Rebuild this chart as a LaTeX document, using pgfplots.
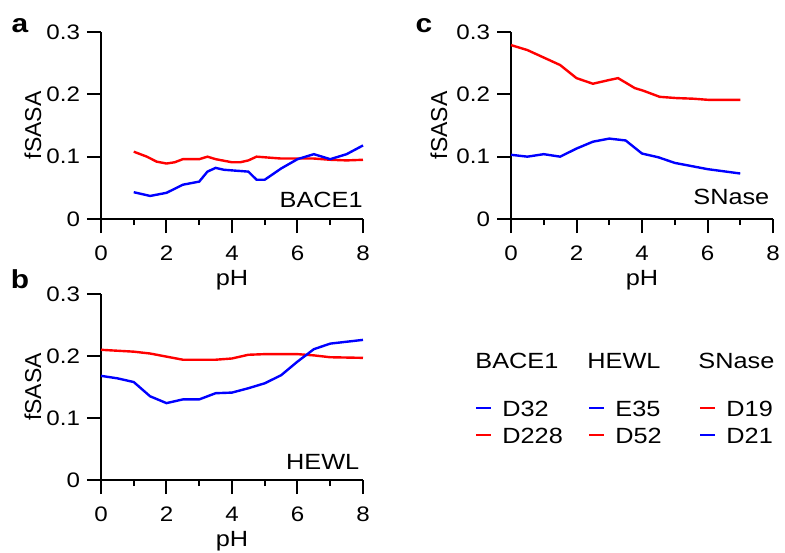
\documentclass[border=0pt]{standalone}
\usepackage{fontspec}
\setmainfont[FakeStretch=1.15]{Liberation Sans}
\newfontfamily\plainsans{Liberation Sans}
\usepackage{pgfplots}
\pgfplotsset{compat=1.18}

% BACE1
\pgfplotstableread{
ph   f
1.0  0.108
1.4  0.100
1.7  0.092
2.0  0.089
2.25 0.091
2.5  0.096
3.0  0.096
3.25 0.100
3.5  0.096
4.0  0.091
4.25 0.091
4.5  0.094
4.75 0.100
5.0  0.099
5.5  0.097
6.0  0.097
6.5  0.097
7.0  0.095
7.5  0.094
8.0  0.095
}\baceDtwotwoeight
\pgfplotstableread{
ph   f
1.0  0.043
1.5  0.037
2.0  0.042
2.5  0.055
3.0  0.060
3.25 0.076
3.5  0.082
3.75 0.079
4.0  0.078
4.5  0.076
4.75 0.063
5.0  0.063
5.5  0.081
6.0  0.096
6.5  0.104
7.0  0.096
7.5  0.104
8.0  0.118
}\baceDthreetwo
% HEWL
\pgfplotstableread{
ph   f
0.0  0.210
1.0  0.207
1.5  0.204
2.0  0.199
2.5  0.194
3.0  0.194
3.5  0.194
4.0  0.196
4.5  0.202
5.0  0.203
5.5  0.203
6.0  0.203
6.5  0.201
7.0  0.198
8.0  0.197
}\hewlDfivetwo
\pgfplotstableread{
ph   f
0.0  0.168
0.5  0.164
1.0  0.158
1.5  0.135
2.0  0.124
2.5  0.130
3.0  0.130
3.5  0.140
4.0  0.141
4.5  0.148
5.0  0.156
5.5  0.169
6.0  0.191
6.5  0.211
7.0  0.220
7.5  0.223
8.0  0.226
}\hewlEthreefive
% SNase
\pgfplotstableread{
ph   f
0.0  0.279
0.5  0.271
1.0  0.259
1.5  0.247
2.0  0.226
2.5  0.217
3.0  0.223
3.27 0.226
3.78 0.210
4.03 0.206
4.54 0.196
5.05 0.194
5.56 0.193
6.07 0.191
7.0  0.191
}\snaseDonenine
\pgfplotstableread{
ph   f
0.0  0.103
0.5  0.100
1.0  0.104
1.5  0.100
2.0  0.113
2.5  0.124
3.0  0.129
3.5  0.126
4.0  0.105
4.5  0.099
5.0  0.090
5.5  0.085
6.0  0.080
7.0  0.073
}\snaseDtwoone

\tikzset{
  inlabel/.style={inner sep=0pt, anchor=east, font=\fontsize{11}{13}\selectfont},
  letter/.style={font=\bfseries\fontsize{13}{15}\selectfont},
}
\pgfplotsset{
  panel/.style={
    scale only axis, width=131pt, height=93.5pt,
    anchor=south west,
    xmin=0, xmax=8, ymin=0, ymax=0.3,
    axis x line*=bottom, axis y line*=left,
    axis line style={line width=1pt, -},
    xtick={0,2,4,6,8}, minor xtick={1,3,5,7},
    ytick={0,0.1,0.2,0.3},
    tick align=outside,
    major tick length=7pt, minor tick length=3pt,
    every tick/.style={line width=1pt, black},
    minor tick style={line width=1pt, black},
    /pgf/number format/assume math mode=true,
    tick label style={font=\fontsize{10.5}{12}\selectfont},
    xticklabel style={yshift=-3pt},
    xlabel=pH, ylabel=fSASA,
    xlabel style={font=\fontsize{11}{13}\selectfont,
      at={(axis description cs:0.5,-0.33)}, anchor=center},
    ylabel style={font=\plainsans\fontsize{11.5}{13}\selectfont,
      at={(axis description cs:-0.26,0.5)}, anchor=center},
    clip=false,
    every axis plot/.append style={line width=1.2pt},
  },
  canvas/.style={
    at={(0pt,0pt)}, anchor=south west,
    scale only axis, width=392.5pt, height=276pt,
    xmin=0, xmax=785, ymin=0, ymax=552,
    hide axis, clip=false,
    legend image code/.code={\draw[##1] (0pt,0pt) -- (7.5pt,0pt);},
    legend style={draw=none, fill=none, inner sep=0pt, outer sep=0pt,
      row sep=5.5pt, column sep=5pt,
      nodes={inner sep=0pt, text height=8pt, text depth=0pt,
        font=\fontsize{11}{13}\selectfont},
      anchor=north west},
    legend cell align=left,
  },
}

\begin{document}
\begin{tikzpicture}
\useasboundingbox (0,0) rectangle (392.5pt,276pt);

% panel a: BACE1
\begin{axis}[panel, at={(50.5pt,166.5pt)}]
\addplot[red] table[x=ph, y=f] {\baceDtwotwoeight};
\addplot[blue] table[x=ph, y=f] {\baceDthreetwo};
\node[inlabel] at (axis cs:8,0.03) {BACE1};
\end{axis}

% panel b: HEWL
\begin{axis}[panel, at={(50.5pt,36pt)}, height=93pt]
\addplot[red] table[x=ph, y=f] {\hewlDfivetwo};
\addplot[blue] table[x=ph, y=f] {\hewlEthreefive};
\node[inlabel] at (axis cs:7.9,0.029) {HEWL};
\end{axis}

% panel c: SNase
\begin{axis}[panel, at={(255.5pt,166.5pt)},
  ylabel style={at={(axis description cs:-0.275,0.5)}}]
\addplot[red] table[x=ph, y=f] {\snaseDonenine};
\addplot[blue] table[x=ph, y=f] {\snaseDtwoone};
\node[inlabel] at (axis cs:7.9,0.035) {SNase};
\end{axis}

% legend and panel letters
\begin{axis}[canvas, legend style={at={(475/785,152/552)}}]
\addlegendimage{blue, line width=1.2pt}
\addlegendentry{D32}
\addlegendimage{red, line width=1.2pt}
\addlegendentry{D228}
\node[letter] at (axis cs:20,526) {a};
\node[letter] at (axis cs:20,273) {b};
\node[letter] at (axis cs:424,526) {c};
\node[inlabel, anchor=west] at (axis cs:475,191) {BACE1};
\node[inlabel, anchor=west] at (axis cs:587,191) {HEWL};
\node[inlabel, anchor=west] at (axis cs:698,191) {SNase};
\end{axis}
\begin{axis}[canvas, legend style={at={(588/785,152/552)}}]
\addlegendimage{blue, line width=1.2pt}
\addlegendentry{E35}
\addlegendimage{red, line width=1.2pt}
\addlegendentry{D52}
\end{axis}
\begin{axis}[canvas, legend style={at={(699/785,152/552)}}]
\addlegendimage{red, line width=1.2pt}
\addlegendentry{D19}
\addlegendimage{blue, line width=1.2pt}
\addlegendentry{D21}
\end{axis}
\end{tikzpicture}
\end{document}
